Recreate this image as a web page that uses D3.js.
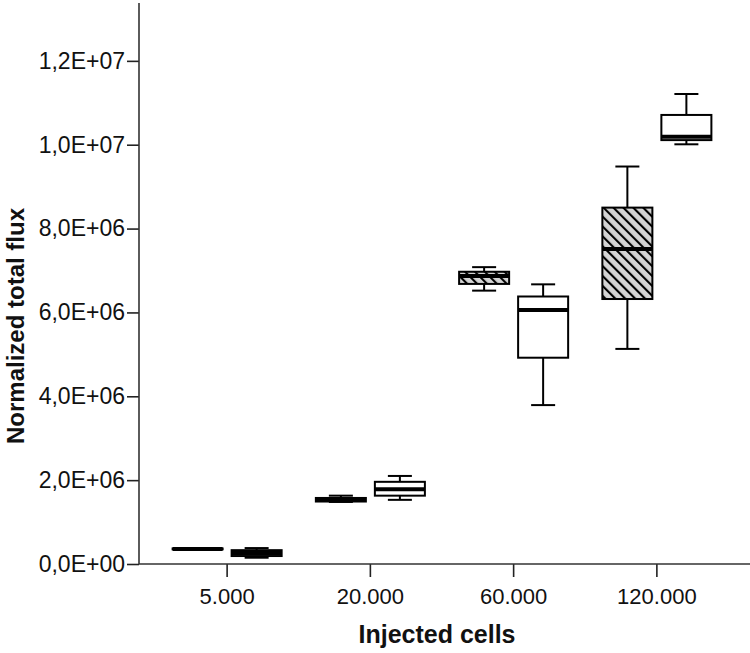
<!DOCTYPE html>
<html>
<head>
<meta charset="utf-8">
<script src="https://cdn.jsdelivr.net/npm/d3@7"></script>
<style>
  html, body { margin: 0; padding: 0; background: #fff; }
  svg { display: block; font-family: "Liberation Sans", Arial, sans-serif; }
</style>
</head>
<body>
<svg id="chart" width="750" height="653"></svg>
<script>
// ---- data ----
const categories = ["5.000", "20.000", "60.000", "120.000"];
const series = ["hatched", "open"];

const hatchedLow  = [0.345e6, 1.48e6, 6.52e6, 5.13e6];
const hatchedQ1   = [0.350e6, 1.49e6, 6.68e6, 6.32e6];
const hatchedMed  = [0.360e6, 1.53e6, 6.87e6, 7.51e6];
const hatchedQ3   = [0.370e6, 1.575e6, 6.97e6, 8.50e6];
const hatchedHigh = [0.375e6, 1.63e6, 7.08e6, 9.48e6];

const openLow  = [0.15e6, 1.53e6, 3.79e6, 10.01e6];
const openQ1   = [0.19e6, 1.63e6, 4.92e6, 10.11e6];
const openMed  = [0.26e6, 1.78e6, 6.06e6, 10.19e6];
const openQ3   = [0.33e6, 1.96e6, 6.38e6, 10.71e6];
const openHigh = [0.38e6, 2.10e6, 6.67e6, 11.21e6];

const yTickValues = [0, 2e6, 4e6, 6e6, 8e6, 1e7, 1.2e7];
const yTickLabels = ["0,0E+00", "2,0E+06", "4,0E+06", "6,0E+06", "8,0E+06", "1,0E+07", "1,2E+07"];
const yMax = 1.338e7;

const xTitle = "Injected cells";
const yTitle = "Normalized total flux";

// ---- build rows ----
const boxes = [];
categories.forEach((c, i) => {
  boxes.push({cat: c, s: "hatched", low: hatchedLow[i], q1: hatchedQ1[i], med: hatchedMed[i], q3: hatchedQ3[i], high: hatchedHigh[i]});
  boxes.push({cat: c, s: "open", low: openLow[i], q1: openQ1[i], med: openMed[i], q3: openQ3[i], high: openHigh[i]});
});

// ---- layout ----
const svg = d3.select("#chart");
const axisX = 139, axisY = 564, topY = 3, rightX = 750;

const x = d3.scaleBand().domain(categories).range([155.5, 728.5]).padding(0);
const xs = d3.scaleBand().domain(series).range([0, x.bandwidth()]).paddingInner(0.1525).paddingOuter(0.29);
const y = d3.scaleLinear().domain([0, yMax]).range([axisY, topY]);

// hatch pattern
const defs = svg.append("defs");
const pat = defs.append("pattern")
  .attr("id", "hatch").attr("patternUnits", "userSpaceOnUse")
  .attr("width", 7).attr("height", 7)
  .attr("patternTransform", "rotate(-45)");
pat.append("rect").attr("width", 7).attr("height", 7).attr("fill", "#d4d4d4");
pat.append("line").attr("x1", 1).attr("y1", 0).attr("x2", 1).attr("y2", 7)
  .attr("stroke", "#000").attr("stroke-width", 2.2);

// axes
const yAxis = d3.axisLeft(y).tickValues(yTickValues)
  .tickFormat((d, i) => yTickLabels[i]).tickSizeOuter(0).tickSize(12).tickPadding(2);
const gy = svg.append("g").attr("transform", `translate(${axisX},0)`).call(yAxis);
gy.select(".domain").remove();
gy.selectAll(".tick line").attr("stroke", "#222").attr("stroke-width", 1.6);
gy.selectAll(".tick text").attr("fill", "#111").style("font-size", "23px");
svg.append("line").attr("x1", axisX).attr("x2", axisX).attr("y1", topY).attr("y2", axisY)
  .attr("stroke", "#333").attr("stroke-width", 1.6);

const xAxis = d3.axisBottom(x).tickSizeOuter(0).tickSize(13).tickPadding(11);
const gx = svg.append("g").attr("transform", `translate(0,${axisY})`).call(xAxis);
gx.select(".domain").remove();
gx.selectAll(".tick line").attr("stroke", "#222").attr("stroke-width", 1.6);
gx.selectAll(".tick text").attr("fill", "#111").style("font-size", "22px");
svg.append("line").attr("x1", axisX).attr("x2", rightX).attr("y1", axisY).attr("y2", axisY)
  .attr("stroke", "#333").attr("stroke-width", 1.6);

// titles
svg.append("text").attr("x", 437).attr("y", 643).attr("text-anchor", "middle")
  .style("font-size", "25px").style("font-weight", "bold").attr("fill", "#111").text(xTitle);
svg.append("text").attr("transform", "translate(24,326) rotate(-90)").attr("text-anchor", "middle")
  .style("font-size", "24px").style("font-weight", "bold").attr("fill", "#111").text(yTitle);

// boxes
const bw = xs.bandwidth();
const capW = bw * 0.48;
const g = svg.append("g");
const bx = g.selectAll("g.box").data(boxes).join("g").attr("class", "box")
  .attr("transform", d => `translate(${x(d.cat) + xs(d.s)},0)`);

// whiskers
bx.append("line").attr("x1", bw / 2).attr("x2", bw / 2)
  .attr("y1", d => y(d.high)).attr("y2", d => y(d.q3)).attr("stroke", "#000").attr("stroke-width", 2);
bx.append("line").attr("x1", bw / 2).attr("x2", bw / 2)
  .attr("y1", d => y(d.q1)).attr("y2", d => y(d.low)).attr("stroke", "#000").attr("stroke-width", 2);
// caps
bx.append("line").attr("x1", bw / 2 - capW / 2).attr("x2", bw / 2 + capW / 2)
  .attr("y1", d => y(d.high)).attr("y2", d => y(d.high)).attr("stroke", "#000").attr("stroke-width", 2);
bx.append("line").attr("x1", bw / 2 - capW / 2).attr("x2", bw / 2 + capW / 2)
  .attr("y1", d => y(d.low)).attr("y2", d => y(d.low)).attr("stroke", "#000").attr("stroke-width", 2);
// box
bx.append("rect").attr("x", 0).attr("width", bw)
  .attr("y", d => y(d.q3)).attr("height", d => Math.max(0, y(d.q1) - y(d.q3)))
  .attr("fill", d => d.s === "hatched" ? "url(#hatch)" : "#fff")
  .attr("stroke", "#000").attr("stroke-width", 2);
// median
bx.append("line").attr("x1", 0).attr("x2", bw)
  .attr("y1", d => y(d.med)).attr("y2", d => y(d.med)).attr("stroke", "#000").attr("stroke-width", 4);
</script>
</body>
</html>
